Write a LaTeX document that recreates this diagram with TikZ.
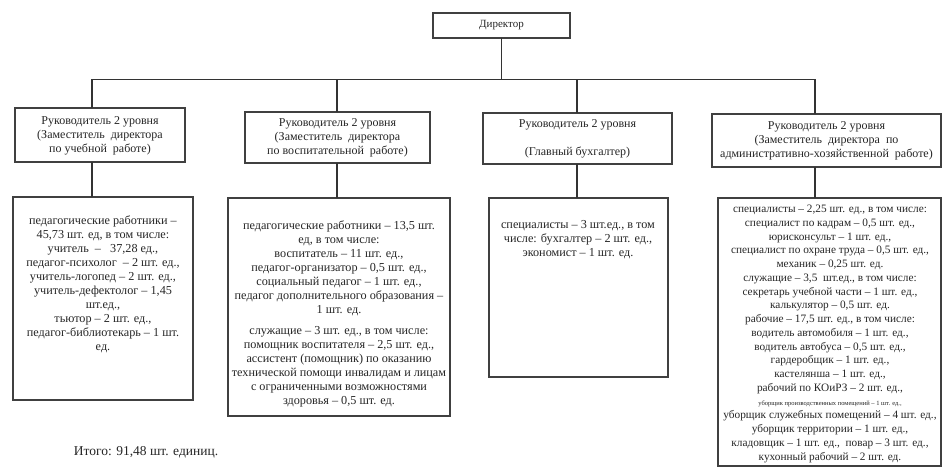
\documentclass[tikz,border=0pt]{standalone}
\usepackage{fontspec}
\setmainfont{Liberation Serif}
\begin{document}
\begin{tikzpicture}[x=1pt,y=-1pt,
  frame/.style={draw=black!75, line width=1.1pt, inner sep=0pt, outer sep=0pt},
  conn/.style={draw=black!80, line width=1.3pt},
  title/.style={text=black!85, align=center, inner sep=0pt, font=\fontsize{12pt}{14pt}\selectfont},
  body/.style={text=black!85, align=center, inner sep=0pt, anchor=north, font=\fontsize{12.2pt}{14pt}\selectfont}]
\useasboundingbox[fill=white] (0,0) rectangle (944,468);
% director
\node[frame, minimum width=137pt, minimum height=25pt] (dir) at (501.5,25.5) {};
\node[title, font=\fontsize{11pt}{13pt}\selectfont] (dirt) at (501.5,25.5) {Директор};
% bus
\coordinate (k1) at (92,79.5);
\coordinate (k2) at (337,79.5);
\coordinate (k3) at (577,79.5);
\coordinate (k4) at (815,79.5);
% level 2 boxes
\node[frame, minimum width=170pt, minimum height=54pt] (b1t) at (100,135) {};
\node[frame, minimum width=185pt, minimum height=51pt] (b2t) at (337.5,137.5) {};
\node[frame, minimum width=189pt, minimum height=51pt] (b3t) at (577.5,138.5) {};
\node[frame, minimum width=229pt, minimum height=53pt] (b4t) at (826.5,140.5) {};
% lower boxes
\node[frame, minimum width=180pt, minimum height=203pt] (b1b) at (103,298.5) {};
\node[frame, minimum width=222pt, minimum height=218pt] (b2b) at (339,307) {};
\node[frame, minimum width=179pt, minimum height=179pt] (b3b) at (578.5,287.5) {};
\node[frame, minimum width=223pt, minimum height=268pt] (b4b) at (829.5,332) {};
% connectors
\draw[conn] (dir.south) -- (dir.south |- k1);
\draw[conn] (k1) -- (k4);
\draw[conn] (k1) -- (k1 |- b1t.north);
\draw[conn] (k2) -- (k2 |- b2t.north);
\draw[conn] (k3) -- (k3 |- b3t.north);
\draw[conn] (k4) -- (k4 |- b4t.north);
\draw[conn] (b1t.south -| k1) -- (b1b.north -| k1);
\draw[conn] (b2t.south -| k2) -- (b2b.north -| k2);
\draw[conn] (b3t.south -| k3) -- (b3b.north -| k3);
\draw[conn] (b4t.south -| k4) -- (b4b.north -| k4);
% titles
\node[title] (t1) at (100,136) {Руководитель 2 уровня\\(Заместитель\ \ директора\\по учебной\ \ работе)};
\node[title] (t2) at (337.5,138) {Руководитель 2 уровня\\(Заместитель\ \ директора\\по воспитательной\ \ работе)};
\node[title] (t3) at (577.5,139) {Руководитель 2 уровня\\[14pt](Главный бухгалтер)};
\node[title] (t4) at (826.5,141) {Руководитель 2 уровня\\(Заместитель\ \ директора\ \ по\\административно-хозяйственной\ \ работе)};
% bodies
\node[body] (x1) at (103,216) {педагогические работники –\\45,73 шт. ед, в том числе:\\учитель\ \ –\ \ \ 37,28 ед.,\\педагог-психолог\ \ – 2 шт. ед.,\\учитель-логопед – 2 шт. ед.,\\учитель-дефектолог – 1,45\\шт.ед.,\\тьютор – 2 шт. ед.,\\педагог-библиотекарь – 1 шт.\\ед.};
\node[body] (x2) at (339,221) {педагогические работники – 13,5 шт.\\ед, в том числе:\\воспитатель – 11 шт. ед.,\\педагог-организатор – 0,5 шт. ед.,\\социальный педагог – 1 шт. ед.,\\педагог дополнительного образования –\\1 шт. ед.\\[7pt]служащие – 3 шт. ед., в том числе:\\помощник воспитателя – 2,5 шт. ед.,\\ассистент (помощник) по оказанию\\технической помощи инвалидам и лицам\\с ограниченными возможностями\\здоровья – 0,5 шт. ед.};
\node[body] (x3) at (578,220) {специалисты – 3 шт.ед., в том\\числе: бухгалтер – 2 шт. ед.,\\экономист – 1 шт. ед.};
\node[body, font=\fontsize{11.3pt}{13.75pt}\selectfont] (x4) at (830,205) {специалисты – 2,25 шт. ед., в том числе:\\специалист по кадрам – 0,5 шт. ед.,\\юрисконсульт – 1 шт. ед.,\\специалист по охране труда – 0,5 шт. ед.,\\механик – 0,25 шт. ед.\\служащие – 3,5\ \ шт.ед., в том числе:\\секретарь учебной части – 1 шт. ед.,\\калькулятор – 0,5 шт. ед.\\рабочие – 17,5 шт. ед., в том числе:\\водитель автомобиля – 1 шт. ед.,\\водитель автобуса – 0,5 шт. ед.,\\гардеробщик – 1 шт. ед.,\\кастелянша – 1 шт. ед.,\\рабочий по КОиРЗ – 2 шт. ед.,\\{\fontsize{6.5pt}{7pt}\selectfont уборщик производственных помещений – 1 шт. ед.,}\\уборщик служебных помещений – 4 шт. ед.,\\уборщик территории – 1 шт. ед.,\\кладовщик – 1 шт. ед.,\ \ повар – 3 шт. ед.,\\кухонный рабочий – 2 шт. ед.};
% total
\node[text=black!85, inner sep=0pt, font=\fontsize{13.5pt}{15pt}\selectfont] (tot) at (146,452) {Итого: 91,48 шт. единиц.};
\end{tikzpicture}
\end{document}
